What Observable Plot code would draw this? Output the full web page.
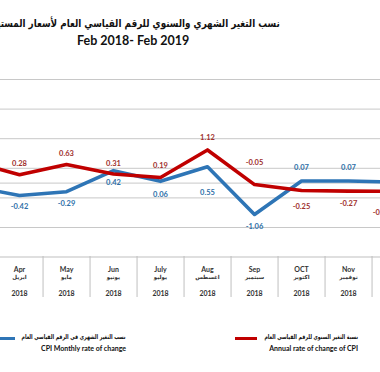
<!DOCTYPE html>
<html><head><meta charset="utf-8">
<script src="https://cdn.jsdelivr.net/npm/d3@7"></script>
<script src="https://cdn.jsdelivr.net/npm/@observablehq/plot@0.6"></script>
<style>
html,body{margin:0;padding:0;background:#fff;}
body{width:380px;height:372px;overflow:hidden;position:relative;font-family:Lato,"DejaVu Sans",sans-serif;}
.abs{position:absolute;white-space:nowrap;}
.sq{transform-origin:right center;}
#chart{position:absolute;left:0;top:60px;}
#table{position:absolute;left:0;top:256px;}
</style></head><body>
<div class="abs sq" dir="rtl" style="right:100px;top:17px;font:bold 11px 'DejaVu Sans';color:#111;transform:scaleX(0.8);">نسب التغير الشهري والسنوي للرقم القياسي العام لأسعار المستهلك</div>
<div class="abs" style="left:77px;top:33px;font:bold 12.5px Lato;color:#111;">Feb 2018- Feb 2019</div>
<div id="chart"></div>
<div id="table"></div>
<div class="abs" style="left:-8px;top:336.5px;width:23px;height:3px;background:#2e75b6;"></div>
<div class="abs sq" dir="rtl" style="right:254px;top:333px;font:bold 6.5px 'DejaVu Sans';color:#111;transform:scaleX(0.72);">نسب التغير الشهري في الرقم القياسي العام</div>
<div class="abs" style="right:254px;top:344px;font:bold 7px Lato;color:#111;">CPI Monthly rate of change</div>
<div class="abs" style="left:235px;top:336.5px;width:22px;height:3px;background:#c00000;"></div>
<div class="abs sq" dir="rtl" style="right:22px;top:333px;font:bold 6.5px 'DejaVu Sans';color:#111;transform:scaleX(0.72);">نسبة التغير السنوي للرقم القياسي  العام</div>
<div class="abs" style="right:22px;top:344px;font:bold 7px Lato;color:#111;">Annual rate of change of CPI</div>
<script>
// ---- data ----
const months   = ["Mar","Apr","May","Jun","July","Aug","Sep","OCT","Nov","Dec"];
const monthsAr = ["مارس","ابريل","مايو","يونيو","يوليو","اغسطس","سبتمبر","اكتوبر","نوفمبر","ديسمبر"];
const years    = ["2018","2018","2018","2018","2018","2018","2018","2018","2018","2018"];
const monthly  = [-0.11,-0.42,-0.29,0.42,0.06,0.55,-1.06,0.07,0.07,0.03];
const annual   = [0.72,0.28,0.63,0.31,0.19,1.12,-0.05,-0.25,-0.27,-0.28];
const yTicks   = [-1.5,-0.5,0.5,1.5,2.5,3.5];

// ---- style config ----
const annualDy  = [-11,-11,-11,-10,-12,-12,-22,16,13,21];
const annualDx  = [0,0,0,0,0,0,0,0,0,-14];
const monthlyDy = [12,11,12,12,13,26,12,-13,-13,-13];
const blue = "#2e75b6", red = "#c00000";
const step = 47.1, firstX = 18.5 - step;

const rows = months.map((m,i)=>({m, ar: monthsAr[i], yr: years[i], monthly: monthly[i], annual: annual[i], i}));
const xScale = {type:"point", domain: months, range:[firstX, firstX + step*(months.length-1)], padding:0, axis:null};
const fmt = v => v.toFixed(2);

const labelMarks = [];
rows.forEach(d => {
  labelMarks.push(Plot.text([d], {x:"m", y:"monthly", text: r=>fmt(r.monthly), dy: monthlyDy[d.i], fill:"#2e6fa8", fontWeight:"bold", fontSize:7.5, fontFamily:"Lato"}));
  labelMarks.push(Plot.text([d], {x:"m", y:"annual", text: r=>fmt(r.annual), dy: annualDy[d.i], dx: annualDx[d.i], fill:"#a0302c", fontWeight:"bold", fontSize:7.5, fontFamily:"Lato"}));
});

const chart = Plot.plot({
  width:380, height:196, margin:0,
  style:{overflow:"hidden", background:"transparent"},
  x: xScale,
  y: {domain:[-1.5,3.5], range:[167,19], axis:null},
  marks:[
    Plot.ruleY(yTicks, {stroke:"#c8c8c8", strokeWidth:1}),
    Plot.ruleY([0], {stroke:"#c8c8c8", strokeWidth:1}),
    Plot.line(rows, {x:"m", y:"monthly", stroke:blue, strokeWidth:3.6}),
    Plot.line(rows, {x:"m", y:"annual", stroke:red, strokeWidth:3.6}),
    ...labelMarks
  ]
});
document.getElementById("chart").append(chart);

const table = Plot.plot({
  width:380, height:41, margin:0,
  style:{overflow:"hidden", background:"transparent"},
  x: xScale,
  y: {domain:[0,1], range:[0.5,40.5], axis:null},
  marks:[
    Plot.ruleY([0], {stroke:"#bfbfbf", strokeWidth:1}),
    Plot.ruleX(months, {x: d=>d, dx: step/2, stroke:"#bfbfbf", strokeWidth:1}),
    Plot.text(rows, {x:"m", text:"m", frameAnchor:"top", dy:10.5, fontWeight:"bold", fontSize:7, fontFamily:"Lato", fill:"#333"}),
    Plot.text(rows, {x:"m", text:"ar", frameAnchor:"top", dy:19, fontWeight:"bold", fontSize:5.5, fontFamily:"DejaVu Sans", fill:"#333"}),
    Plot.text(rows, {x:"m", text:"yr", frameAnchor:"top", dy:34.5, fontWeight:"bold", fontSize:7, fontFamily:"Lato", fill:"#333"})
  ]
});
document.getElementById("table").append(table);
</script>
</body></html>
